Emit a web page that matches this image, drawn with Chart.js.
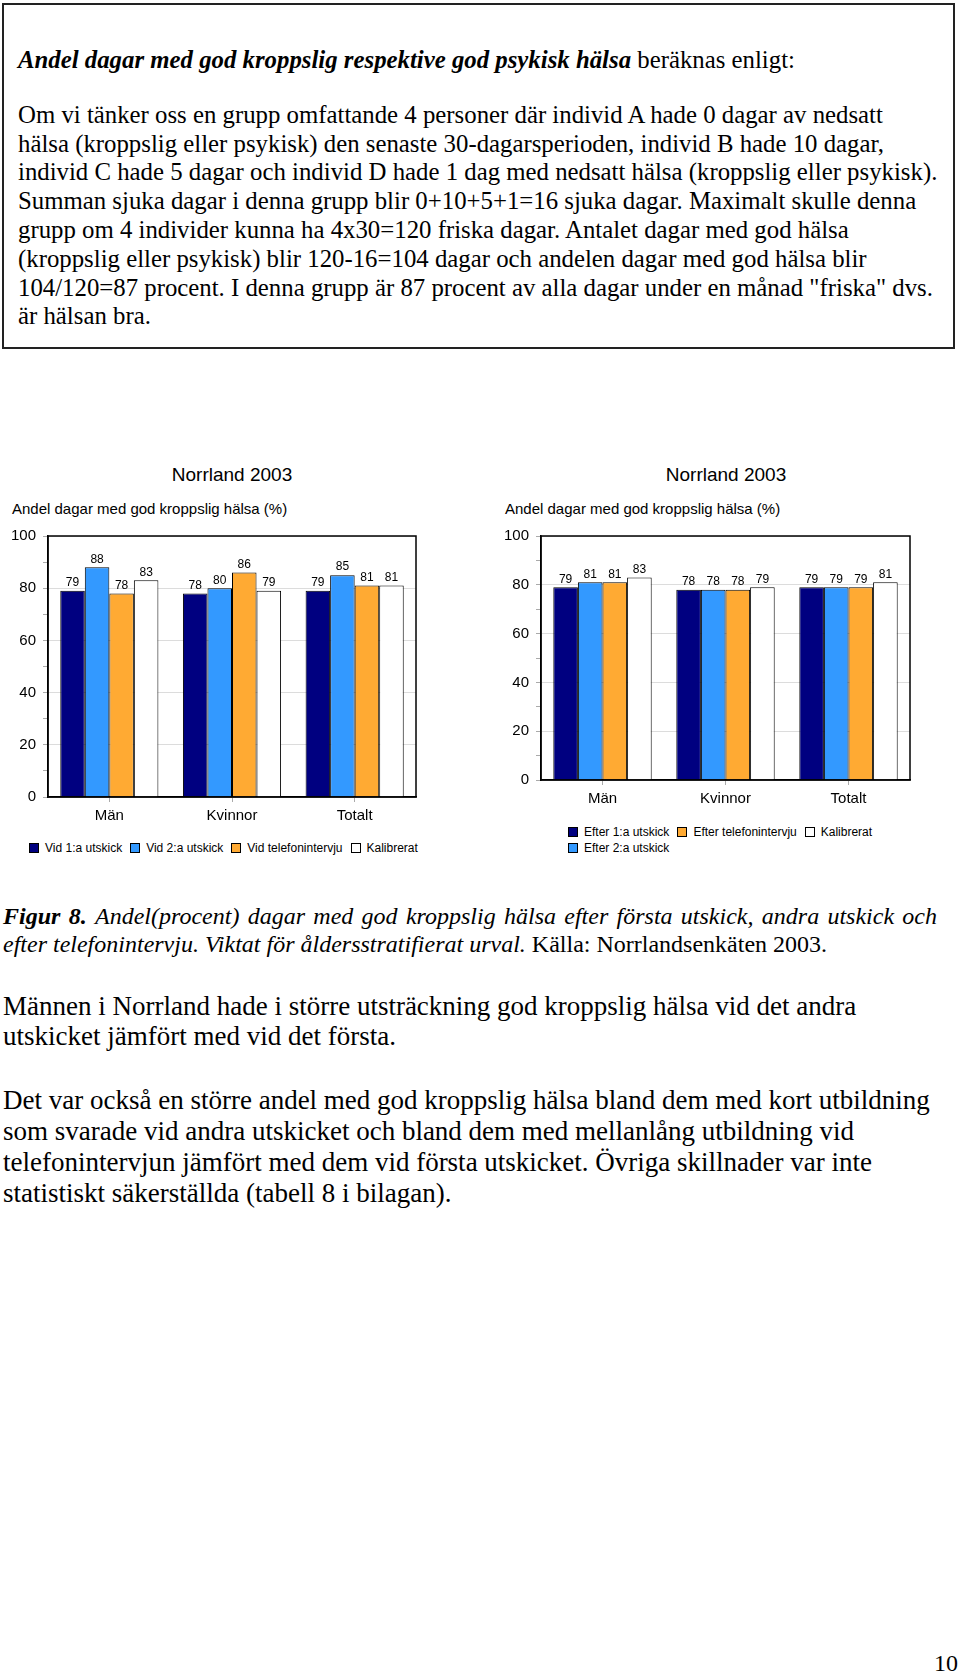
<!DOCTYPE html>
<html>
<head>
<meta charset="utf-8">
<script src="https://cdn.jsdelivr.net/npm/chart.js@4.4.1/dist/chart.umd.min.js"></script>
<style>
  body { margin: 0; width: 960px; height: 1674px; position: relative; background: #fff; overflow: hidden; color: #000; }
  .serif { font-family: "Liberation Serif", "Times New Roman", serif; white-space: nowrap; position: absolute; }
  .sans { font-family: "Liberation Sans", Arial, sans-serif; white-space: nowrap; position: absolute; }
  #box { position: absolute; left: 2px; top: 3px; width: 949px; height: 342px; border: 2px solid #222; }
  canvas { position: absolute; }
  .legend { display: flex; gap: 8px; font-size: 12px; line-height: 14px; }
  .legend span { display: flex; align-items: center; }
  .legend i { display: inline-block; width: 10px; height: 10px; border: 1px solid #000; box-sizing: border-box; margin-right: 6px; }
  .justified { width: 934px; white-space: normal; text-align: justify; text-align-last: justify; }
</style>
</head>
<body>
<div id="box"></div>
<div class="serif" style="left:18px; top:45.6px; font-size:24.8px; line-height:28.8px;"><b><i>Andel dagar med god kroppslig respektive god psykisk hälsa</i></b> beräknas enligt:</div>
<div class="serif" style="left:18px; top:100.9px; font-size:24.8px; line-height:28.8px;">
Om vi tänker oss en grupp omfattande 4 personer där individ A hade 0 dagar av nedsatt<br>
hälsa (kroppslig eller psykisk) den senaste 30-dagarsperioden, individ B hade 10 dagar,<br>
individ C hade 5 dagar och individ D hade 1 dag med nedsatt hälsa (kroppslig eller psykisk).<br>
Summan sjuka dagar i denna grupp blir 0+10+5+1=16 sjuka dagar. Maximalt skulle denna<br>
grupp om 4 individer kunna ha 4x30=120 friska dagar. Antalet dagar med god hälsa<br>
(kroppslig eller psykisk) blir 120-16=104 dagar och andelen dagar med god hälsa blir<br>
104/120=87 procent. I denna grupp är 87 procent av alla dagar under en månad "friska" dvs.<br>
är hälsan bra.
</div>

<div class="sans" style="left:132px; top:464px; width:200px; text-align:center; font-size:19px; line-height:22px;">Norrland 2003</div>
<div class="sans" style="left:12px; top:500px; font-size:15px; line-height:18px;">Andel dagar med god kroppslig hälsa (%)</div>
<canvas id="chart-vid" width="470" height="312" style="left:0; top:520px;"></canvas>
<div id="legend-vid" class="sans legend" style="left:29px; top:841px;"></div>

<div class="sans" style="left:626px; top:464px; width:200px; text-align:center; font-size:19px; line-height:22px;">Norrland 2003</div>
<div class="sans" style="left:505px; top:500px; font-size:15px; line-height:18px;">Andel dagar med god kroppslig hälsa (%)</div>
<canvas id="chart-efter" width="467" height="295" style="left:493px; top:520px;"></canvas>
<div id="legend-efter-1" class="sans legend" style="left:568px; top:825px;"></div>
<div id="legend-efter-2" class="sans legend" style="left:568px; top:841px;"></div>

<div class="serif justified" style="left:3px; top:902px; font-size:24px; line-height:28px;"><b><i>Figur 8.</i></b> <i>Andel(procent) dagar med god kroppslig hälsa efter första utskick, andra utskick och</i></div>
<div class="serif" style="left:3px; top:930px; font-size:24px; line-height:28px;"><i>efter telefonintervju. Viktat för åldersstratifierat urval.</i> Källa: Norrlandsenkäten 2003.</div>
<div class="serif" style="left:3px; top:991px; font-size:27px; line-height:30px;">Männen i Norrland hade i större utsträckning god kroppslig hälsa vid det andra<br>utskicket jämfört med vid det första.</div>
<div class="serif" style="left:3px; top:1084.5px; font-size:27px; line-height:31px;">Det var också en större andel med god kroppslig hälsa bland dem med kort utbildning<br>som svarade vid andra utskicket och bland dem med mellanlång utbildning vid<br>telefonintervjun jämfört med dem vid första utskicket. Övriga skillnader var inte<br>statistiskt säkerställda (tabell 8 i bilagan).</div>
<div class="serif" style="left:930px; top:1648px; width:28px; text-align:right; font-size:24px; line-height:30px;">10</div>

<script>
const categories = ["Män", "Kvinnor", "Totalt"];

const vidLabels = ["Vid 1:a utskick", "Vid 2:a utskick", "Vid telefonintervju", "Kalibrerat"];
const vid1 = [79, 78, 79];
const vid2 = [88, 80, 85];
const vidTel = [78, 86, 81];
const vidKal = [83, 79, 81];

const efterLabels = ["Efter 1:a utskick", "Efter 2:a utskick", "Efter telefonintervju", "Kalibrerat"];
const efter1 = [79, 78, 79];
const efter2 = [81, 78, 79];
const efterTel = [81, 78, 79];
const efterKal = [83, 79, 81];

const yTicks = [0, 20, 40, 60, 80, 100];
const seriesColors = ["#000080", "#3399ff", "#ffaa33", "#ffffff"];

const sansFamily = "'Liberation Sans', Arial, sans-serif";

// black frame round the plot area
const framePlugin = {
  id: "frame",
  afterDatasetsDraw(chart) {
    const a = chart.chartArea;
    const c = chart.ctx;
    c.save();
    c.strokeStyle = "#000";
    c.lineWidth = 1.5;
    c.strokeRect(a.left, a.top, a.right - a.left, a.bottom - a.top);
    c.restore();
  },
};

// value over each bar
const valueLabels = {
  id: "valueLabels",
  afterDatasetsDraw(chart) {
    const c = chart.ctx;
    c.save();
    c.font = "12px " + sansFamily;
    c.fillStyle = "#000";
    c.textAlign = "center";
    c.textBaseline = "bottom";
    chart.data.datasets.forEach((ds, i) => {
      chart.getDatasetMeta(i).data.forEach((bar, j) => {
        c.fillText(ds.data[j], bar.x, bar.y - 2);
      });
    });
    c.restore();
  },
};

const makeChart = (canvasId, labels, series, padRight) => {
  const ctx = document.getElementById(canvasId);

  const datasets = series.map((vals, i) => ({
    label: labels[i],
    data: vals,
    backgroundColor: seriesColors[i],
    borderColor: "#000",
    borderWidth: 1,
    categoryPercentage: 0.8,
    barPercentage: 1.0,
  }));

  new Chart(ctx, {
    type: "bar",
    data: { labels: categories, datasets: datasets },
    options: {
      responsive: false,
      animation: false,
      layout: { padding: { top: 14, right: padRight, left: 0, bottom: 0 } },
      plugins: {
        legend: { display: false },
        tooltip: { enabled: false },
      },
      scales: {
        x: {
          grid: { offset: false, drawOnChartArea: false, tickLength: 5, color: "#aaa" },
          border: { color: "#000", width: 1.5 },
          ticks: { color: "#000", font: { family: sansFamily, size: 15 }, padding: 5, maxRotation: 0 },
          afterFit: (scale) => { scale.height = 35; },
        },
        y: {
          min: 0,
          max: 100,
          ticks: {
            stepSize: 10,
            autoSkip: false,
            color: "#000",
            font: { family: sansFamily, size: 15 },
            padding: 7,
            callback: (v) => (yTicks.includes(v) ? v : ""),
          },
          grid: {
            color: (c) => (c.tick && c.tick.value % 20 === 0 ? "#dcdcdc" : "rgba(0,0,0,0)"),
            tickColor: "#aaa",
            tickLength: 5,
          },
          border: { color: "#000", width: 1.5 },
          afterFit: (scale) => { scale.width = 48; },
        },
      },
    },
    plugins: [framePlugin, valueLabels],
  });
};

const legendItem = (label, color) =>
  `<span><i style="background:${color}"></i>${label}</span>`;

makeChart("chart-vid", vidLabels, [vid1, vid2, vidTel, vidKal], 54);
makeChart("chart-efter", efterLabels, [efter1, efter2, efterTel, efterKal], 50);

document.getElementById("legend-vid").innerHTML =
  vidLabels.map((l, i) => legendItem(l, seriesColors[i])).join("");
document.getElementById("legend-efter-1").innerHTML =
  [0, 2, 3].map((i) => legendItem(efterLabels[i], seriesColors[i])).join("");
document.getElementById("legend-efter-2").innerHTML =
  legendItem(efterLabels[1], seriesColors[1]);
</script>
</body>
</html>
